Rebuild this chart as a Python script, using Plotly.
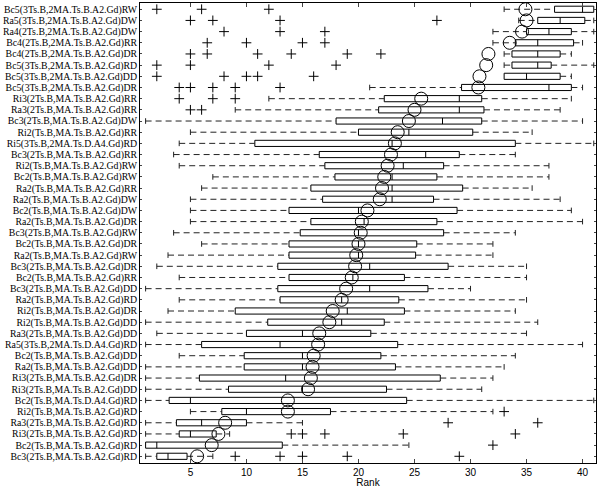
import plotly.graph_objects as go

labels = [
    "Bc5(3Ts.B,2MA.Ts.B.A2.Gd)RW", "Ra5(3Ts.B,2MA.Ts.B.A2.Gd)DW", "Ra4(2Ts.B,2MA.Ts.B.A2.Gd)DW",
    "Bc4(2Ts.B,2MA.Ts.B.A2.Gd)RR", "Bc4(2Ts.B,2MA.Ts.B.A2.Gd)DR", "Bc5(3Ts.B,2MA.Ts.B.A2.Gd)RD",
    "Bc5(3Ts.B,2MA.Ts.B.A2.Gd)DD", "Bc5(3Ts.B,2MA.Ts.B.A2.Gd)DR", "Ri3(2Ts.B,MA.Ts.B.A2.Gd)RR",
    "Ra3(2Ts.B,MA.Ts.B.A2.Gd)RR", "Bc3(2Ts.B,MA.Ts.B.A2.Gd)DW", "Ri2(Ts.B,MA.Ts.B.A2.Gd)RR",
    "Ri5(3Ts.B,2MA.Ts.D.A4.Gd)RD", "Bc3(2Ts.B,MA.Ts.B.A2.Gd)RR", "Ri2(Ts.B,MA.Ts.B.A2.Gd)RW",
    "Bc2(Ts.B,MA.Ts.B.A2.Gd)RW", "Ra2(Ts.B,MA.Ts.B.A2.Gd)RR", "Ra2(Ts.B,MA.Ts.B.A2.Gd)DW",
    "Bc2(Ts.B,MA.Ts.B.A2.Gd)DW", "Ra2(Ts.B,MA.Ts.B.A2.Gd)DR", "Bc3(2Ts.B,MA.Ts.B.A2.Gd)RW",
    "Bc2(Ts.B,MA.Ts.B.A2.Gd)DR", "Ra2(Ts.B,MA.Ts.B.A2.Gd)RW", "Bc3(2Ts.B,MA.Ts.B.A2.Gd)DR",
    "Bc2(Ts.B,MA.Ts.B.A2.Gd)RR", "Bc3(2Ts.B,MA.Ts.B.A2.Gd)DD", "Ra2(Ts.B,MA.Ts.B.A2.Gd)RD",
    "Ri2(Ts.B,MA.Ts.B.A2.Gd)DR", "Ri2(Ts.B,MA.Ts.B.A2.Gd)DD", "Ra3(2Ts.B,MA.Ts.B.A2.Gd)DD",
    "Ra5(3Ts.B,2MA.Ts.D.A4.Gd)RD", "Bc2(Ts.B,MA.Ts.B.A2.Gd)DD", "Ra2(Ts.B,MA.Ts.B.A2.Gd)DD",
    "Ri3(2Ts.B,MA.Ts.B.A2.Gd)DR", "Ri3(2Ts.B,MA.Ts.B.A2.Gd)DD", "Bc2(Ts.B,MA.Ts.D.A4.Gd)RD",
    "Ri2(Ts.B,MA.Ts.B.A2.Gd)RD", "Ra3(2Ts.B,MA.Ts.B.A2.Gd)RD", "Ri3(2Ts.B,MA.Ts.B.A2.Gd)RD",
    "Bc2(Ts.B,MA.Ts.B.A2.Gd)RD", "Bc3(2Ts.B,MA.Ts.B.A2.Gd)RD",
]

whisker_lo = [33, 34.3, 32, 32, 33, 33, 33, 21, 12, 9, 1, 5, 4, 3.5, 4, 7, 6, 5, 5, 5, 3.5,
              6, 3, 2, 4, 1, 4, 3, 1, 2, 1, 4, 1, 1, 1, 1, 5, 1, 1, 1, 1]
q1 = [37.5, 36, 35, 34, 33.7, 33.7, 33, 29.2, 22.3, 21.8, 18, 20, 10.75, 16.5, 17, 17.9, 15.75,
      16.8, 13.8, 15.75, 14.8, 13.8, 13.8, 12.8, 13.8, 12.8, 13, 9, 11.9, 10, 6, 9.8, 9.8, 5.8,
      8.4, 3.1, 7.8, 3.75, 4, 1, 2]
median = [40, 38, 37, 36, 36, 36, 35, 37, 29, 29, 27.5, 24.5, 23, 26, 24, 23, 23, 23, 20, 20.5,
          20, 20, 20, 21, 19.5, 21, 18.5, 19, 18.5, 15, 13, 15, 15, 13.5, 15, 5, 10, 6, 5, 2, 3]
q3 = [41, 40.2, 39, 39.2, 38, 37.2, 38, 39, 31, 31.2, 31, 30.2, 34, 29, 27.6, 27, 29.3, 26.7,
      28.8, 27, 27.6, 25.2, 25.1, 28, 24.1, 26.2, 23.6, 24.1, 22.3, 21.1, 23.5, 22, 23.3, 27.3,
      22.5, 24.3, 17.5, 10, 7.3, 13.2, 4.7]
whisker_hi = [41, 41, 41, 40, 39, 41, 39, 40, 39, 38, 40, 35.5, 41, 34, 37, 37, 35.5, 38, 39, 40,
              34, 32, 32, 35, 35, 30, 35, 34, 36, 35, 40, 34, 33, 32, 31, 41, 32, 15, 8.5, 24.5, 7]
mean_rank = [34.9, 35.0, 34.6, 33.5, 31.6, 31.4, 30.8, 30.7, 25.6, 25.0, 24.5, 23.5, 23.25, 22.9,
             22.6, 22.3, 22.1, 21.9, 20.8, 20.3, 20.2, 20.0, 19.8, 19.7, 19.4, 18.9, 18.5, 17.7,
             17.4, 16.5, 16.4, 16.0, 15.9, 15.75, 15.5, 13.7, 13.7, 8.1, 7.5, 6.9, 5.6]
outliers = [
    [2, 6, 12], [5, 7, 13, 27], [8, 13, 17], [6.5, 10, 15, 17], [5, 6.5, 11, 14, 19, 22],
    [2, 5, 12, 18], [2, 8, 10, 11, 16], [4, 5, 7, 9, 13], [4, 7, 9], [5, 6], [], [], [], [],
    [], [], [], [], [], [], [], [], [], [], [], [], [], [], [], [], [], [], [], [], [], [],
    [33], [28, 36], [14, 15, 17, 24, 34], [32], [9, 13, 15, 19, 29],
]
x_ticks = [5, 10, 15, 20, 25, 30, 35, 40]

pos = list(range(1, len(labels) + 1))

fig = go.Figure()

fig.add_trace(go.Box(
    y=pos, q1=q1, median=median, q3=q3, lowerfence=q1, upperfence=q3,
    orientation="h", width=0.55, fillcolor="white",
    line=dict(color="black", width=1), whiskerwidth=0, boxpoints=False,
    showlegend=False, hoverinfo="skip",
))

wx, wy = [], []
for p, lo, a, b, hi in zip(pos, whisker_lo, q1, q3, whisker_hi):
    if lo < a:
        wx += [lo, a, None]
        wy += [p, p, None]
    if hi > b:
        wx += [b, hi, None]
        wy += [p, p, None]
fig.add_trace(go.Scatter(
    x=wx, y=wy, mode="lines", line=dict(color="#222222", width=1, dash="6px,4px"),
    showlegend=False, hoverinfo="skip",
))

cx, cy = [], []
for p, lo, a, b, hi in zip(pos, whisker_lo, q1, q3, whisker_hi):
    if lo < a:
        cx.append(lo); cy.append(p)
    if hi > b:
        cx.append(hi); cy.append(p)
fig.add_trace(go.Scatter(
    x=cx, y=cy, mode="markers",
    marker=dict(symbol="line-ns", size=4, color="#222222", line=dict(color="#222222", width=1)),
    showlegend=False, hoverinfo="skip",
))

ox, oy = [], []
for p, vals in zip(pos, outliers):
    for v in vals:
        ox.append(v); oy.append(p)
fig.add_trace(go.Scatter(
    x=ox, y=oy, mode="markers",
    marker=dict(symbol="cross-thin-open", size=7, color="black", line=dict(color="black", width=1)),
    showlegend=False, hoverinfo="skip",
))

fig.add_trace(go.Scatter(
    x=mean_rank, y=pos, mode="markers",
    marker=dict(symbol="circle-open", size=13, color="black", line=dict(color="black", width=1)),
    showlegend=False, hoverinfo="skip",
))

fig.update_layout(
    template="none",
    width=598, height=488,
    margin=dict(l=140, r=2, t=3, b=25),
    paper_bgcolor="white", plot_bgcolor="white",
    showlegend=False,
)
fig.update_xaxes(
    automargin=False,
    range=[0.5, 41.2], tickvals=x_ticks, ticks="inside", ticklen=4,
    showline=True, linecolor="black", linewidth=1, mirror="ticks",
    showgrid=False, zeroline=False,
    tickfont=dict(family="Liberation Sans", size=10, color="black"),
    title=dict(text="Rank", font=dict(family="Liberation Sans", size=10, color="black"), standoff=2),
)
fig.update_yaxes(
    automargin=False,
    range=[41.6, 0.44], tickvals=pos, ticktext=labels, ticks="inside", ticklen=2,
    showline=True, linecolor="black", linewidth=1, mirror="ticks",
    showgrid=False, zeroline=False,
    tickfont=dict(family="Liberation Serif", size=9.8, color="black"),
)

fig.write_html(
    "out.html",
    config={"displayModeBar": False, "staticPlot": True},
    post_script="document.body.style.margin='0';document.body.style.overflow='hidden';",
)
